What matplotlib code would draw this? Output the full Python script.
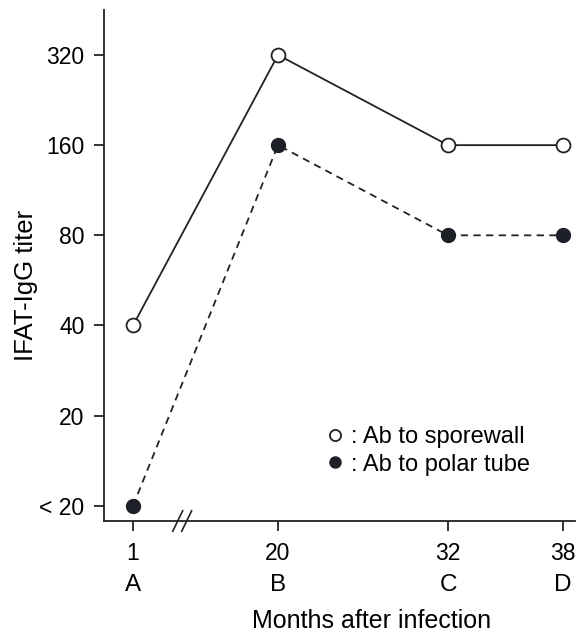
import numpy as np
import matplotlib
matplotlib.use("Agg")
from matplotlib import pyplot as plt
from matplotlib import transforms

plt.rcParams['font.family'] = ['Liberation Sans', 'DejaVu Sans']

# data
months = [1, 20, 32, 38]
groups = ['A', 'B', 'C', 'D']
sporewall = [40, 320, 160, 160]
polar_tube = [10, 160, 80, 80]  # 10 stands for "< 20"
y_ticks = [10, 20, 40, 80, 160, 320]
y_ticklabels = ['< 20', '20', '40', '80', '160', '320']

# hand drawn (broken) month axis: knots of month -> axis position
scale_months = [0, 1, 20, 32, 38, 39]
scale_pos = [0, 29, 174, 344, 459, 471]


def fwd(x):
    return np.interp(x, scale_months, scale_pos)


def inv(p):
    return np.interp(p, scale_pos, scale_months)


fig = plt.figure(figsize=(5.82, 6.35), dpi=100)
ax = fig.add_axes([0.1787, 0.1795, 0.8093, 0.8047])
ax.set_xscale('function', functions=(fwd, inv))
ax.set_yscale('log', base=2)

ax.plot(months, sporewall, color='#222222', lw=1.3, marker='o', ms=10,
        mfc='white', mec='#222222', mew=1.3, label=': Ab to sporewall')
ax.plot(months, polar_tube, color='#222222', lw=1.3, ls=(0, (4, 3)), marker='o', ms=10,
        mfc='#1e2028', mec='#1e2028', label=': Ab to polar tube')

ax.set_xlim(0, 39)
ax.set_ylim(8.9, 452)
ax.set_yticks(y_ticks)
ax.set_yticklabels(y_ticklabels)
ax.yaxis.set_minor_locator(matplotlib.ticker.NullLocator())
ax.set_xticks(months)
ax.set_xticklabels([str(m) for m in months])
ax.xaxis.set_minor_locator(matplotlib.ticker.NullLocator())

for s in ['top', 'right']:
    ax.spines[s].set_visible(False)
for s in ['left', 'bottom']:
    ax.spines[s].set_linewidth(1.3)
    ax.spines[s].set_color('#222222')
ax.tick_params(axis='both', length=7, width=1.3, color='#222222', labelsize=16.5, pad=7)
ax.tick_params(axis='x', pad=8)

trans = transforms.blended_transform_factory(ax.transData, ax.transAxes)
for m, g in zip(months, groups):
    ax.text(m, -0.126, g, transform=trans, ha='center', va='center', fontsize=17.5)

# axis break marks
for dx in (0, 0.019):
    ax.plot([0.146 + dx, 0.167 + dx], [-0.02, 0.02], transform=ax.transAxes,
            color='#222222', lw=1.2, clip_on=False)

ax.set_xlabel('Months after infection', fontsize=18)
ax.xaxis.set_label_coords(0.569, -0.172)
ax.set_ylabel('IFAT-IgG titer', fontsize=18.5)
ax.yaxis.set_label_coords(-0.14, 0.462)

ax.legend(loc='lower right', bbox_to_anchor=(0.95, 0.047), frameon=False, fontsize=17,
          handlelength=0, handletextpad=0.7, markerscale=0.8, labelspacing=0.25)

fig.savefig('out.png', dpi=100)
plt.close()
